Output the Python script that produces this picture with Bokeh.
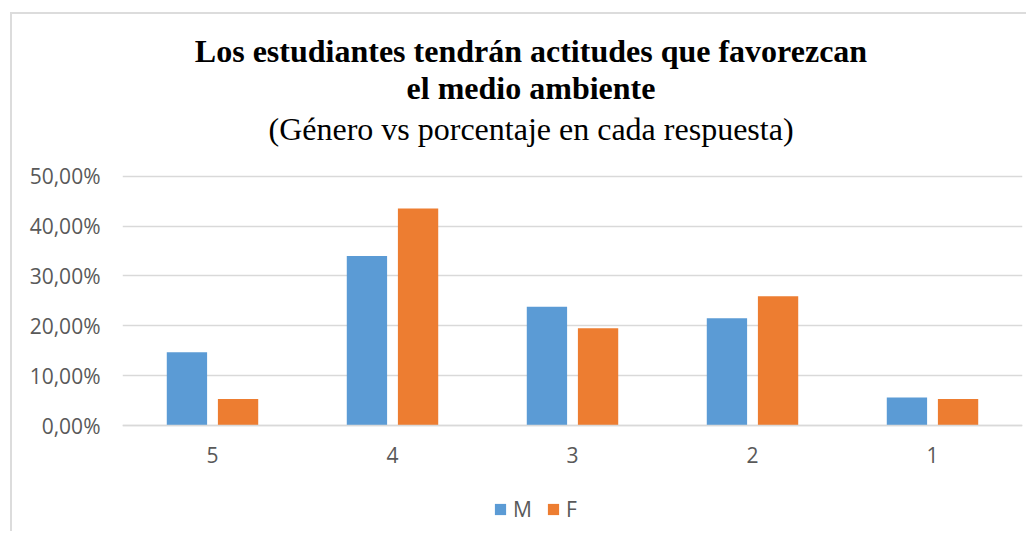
from bokeh.plotting import figure
from bokeh.models import (FactorRange, Range1d, FixedTicker, Label, Legend,
                          LegendItem, ColumnDataSource)
from bokeh.transform import dodge
from bokeh.embed import file_html
from bokeh.resources import INLINE

# ---- data ----
categories = ["5", "4", "3", "2", "1"]
m_values = [0.147, 0.340, 0.238, 0.215, 0.056]
f_values = [0.053, 0.435, 0.195, 0.259, 0.053]
series_names = ["M", "F"]
y_ticks = [0.0, 0.1, 0.2, 0.3, 0.4, 0.5]
y_tick_labels = ["0,00%", "10,00%", "20,00%", "30,00%", "40,00%", "50,00%"]
title_line1 = "Los estudiantes tendrán actitudes que favorezcan"
title_line2 = "el medio ambiente"
subtitle = "(Género vs porcentaje en cada respuesta)"

BLUE = "#5B9BD5"
ORANGE = "#ED7D31"
GRID = "#d9d9d9"
TXT = "#595959"

# ---- layout geometry (pixels) ----
W, H = 1016, 519
PX_PER_UNIT = 498.6          # pixels per 1.0 of value
TOP_SPACE = 161.7            # canvas top -> 50% gridline
BOTTOM_SPACE = 108.0         # 0% line -> canvas bottom
y_end = 0.5 + TOP_SPACE / PX_PER_UNIT
y_start = -BOTTOM_SPACE / PX_PER_UNIT

source = ColumnDataSource(dict(cat=categories, M=m_values, F=f_values))

p = figure(x_range=FactorRange(*categories), y_range=Range1d(y_start, y_end),
           width=W, height=H, output_backend="svg", toolbar_location=None,
           min_border_left=110, min_border_right=6, min_border_top=0,
           min_border_bottom=0)
p.styles = {"border-left": "2px solid #dcdcdc", "border-top": "2px solid #dcdcdc",
            "margin-left": "10px", "margin-top": "12px"}
p.outline_line_color = None
p.background_fill_color = "white"
p.border_fill_color = "white"

r_m = p.vbar(x=dodge("cat", -0.142, range=p.x_range), top="M", width=0.224,
             source=source, fill_color=BLUE, line_color=None)
r_f = p.vbar(x=dodge("cat", 0.142, range=p.x_range), top="F", width=0.224,
             source=source, fill_color=ORANGE, line_color=None)

# grid
p.xgrid.grid_line_color = None
p.ygrid.grid_line_color = GRID
p.ygrid.grid_line_width = 1.5
p.ygrid.ticker = FixedTicker(ticks=y_ticks)

# y axis
p.yaxis.ticker = FixedTicker(ticks=y_ticks)
p.yaxis.major_label_overrides = {t: l for t, l in zip(y_ticks, y_tick_labels)}
p.yaxis.axis_line_color = None
p.yaxis.major_tick_line_color = None
p.yaxis.minor_tick_line_color = None
p.yaxis.major_tick_out = 0
p.yaxis.major_label_standoff = 22
p.yaxis.major_label_text_font = "Open Sans"
p.yaxis.major_label_text_font_size = "21px"
p.yaxis.major_label_text_color = TXT

# x axis (drawn at the 0 line)
p.xaxis.fixed_location = 0
p.xaxis.axis_line_color = GRID
p.xaxis.axis_line_width = 1.5
p.xaxis.major_tick_line_color = None
p.xaxis.major_tick_out = 0
p.xaxis.major_label_standoff = 21
p.xaxis.major_label_text_font = "Open Sans"
p.xaxis.major_label_text_font_size = "21px"
p.xaxis.major_label_text_color = TXT

# titles
p.add_layout(Label(x=0, y=0.5, x_offset=408.5, y_offset=125, text=title_line1,
                   text_align="center", text_baseline="alphabetic",
                   text_font="Liberation Serif", text_font_style="bold",
                   text_font_size="32px", text_color="black"))
p.add_layout(Label(x=0, y=0.5, x_offset=408.5, y_offset=88, text=title_line2,
                   text_align="center", text_baseline="alphabetic",
                   text_font="Liberation Serif", text_font_style="bold",
                   text_font_size="32px", text_color="black"))
p.add_layout(Label(x=0, y=0.5, x_offset=408.5, y_offset=47, text=subtitle,
                   text_align="center", text_baseline="alphabetic",
                   text_font="Liberation Serif", text_font_size="32px",
                   text_color="black"))

# legend
legend = Legend(items=[LegendItem(label=series_names[0], renderers=[r_m]),
                       LegendItem(label=series_names[1], renderers=[r_f])],
                orientation="horizontal", location=(371, 10),
                glyph_width=14, glyph_height=14, label_standoff=6, spacing=13,
                padding=0, margin=0, border_line_color=None,
                background_fill_alpha=0, label_text_font="Open Sans",
                label_text_font_size="21px", label_text_color=TXT)
p.add_layout(legend, "center")

open("out.html", "w").write(file_html(p, INLINE))
